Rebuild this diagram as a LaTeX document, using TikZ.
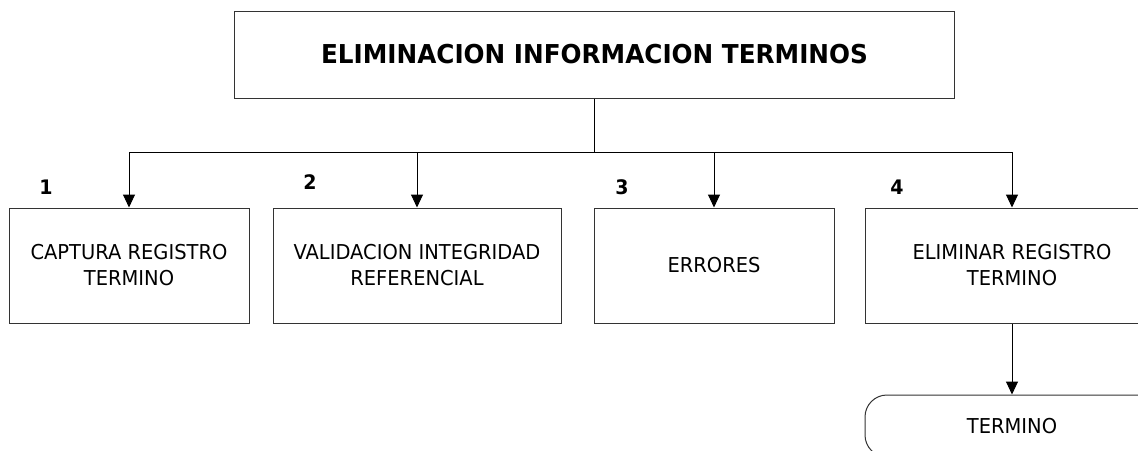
\documentclass[tikz,border=0pt]{standalone}
\usepackage{fontspec}
\setmainfont{DejaVu Sans}[FakeStretch=0.95]
\usetikzlibrary{arrows.meta}
\tikzset{
  box/.style={draw=black!80, line width=1pt, minimum height=115pt, align=center, inner sep=0pt, font=\fontsize{20.5}{26}\selectfont},
  arr/.style={line width=1pt, -{Triangle[width=12pt,length=13pt]}},
  num/.style={font=\fontsize{20}{24}\selectfont\bfseries, inner sep=0pt},
  term/.style={draw=black!80, line width=1pt, rounded corners=22pt, minimum width=294pt, minimum height=62pt, font=\fontsize{20.5}{26}\selectfont}
}
\begin{document}
\begin{tikzpicture}[x=1pt,y=-1pt]
\clip (0,0) rectangle (1138,450);
\fill[white] (0,0) rectangle (1138,450);
\node[draw=black!80, line width=1pt, minimum width=720pt, minimum height=87pt, font=\fontsize{26}{30}\selectfont\bfseries] (title) at (594.5,54.5) {ELIMINACION INFORMACION TERMINOS};
\node[box, minimum width=240pt] (b1) at (129,265.5) {CAPTURA REGISTRO\\TERMINO};
\node[box, minimum width=288pt] (b2) at (417,265.5) {VALIDACION INTEGRIDAD\\REFERENCIAL};
\node[box, minimum width=240pt] (b3) at (714,265.5) {ERRORES};
\node[box, minimum width=294pt] (b4) at (1012,265.5) {ELIMINAR REGISTRO\\TERMINO};
\node[term] (t) at (1012,426) {TERMINO};
\node[num] (n1) at (46,187) {1};
\node[num] (n2) at (310,182) {2};
\node[num] (n3) at (622,187) {3};
\node[num] (n4) at (897,187) {4};
\coordinate (j) at (594.5,152);
\draw[line width=1pt] (title.south) -- (j);
\draw[arr] (j) -| (b1.north);
\draw[arr] (j) -| (b2.north);
\draw[arr] (j) -| (b3.north);
\draw[arr] (j) -| (b4.north);
\draw[arr] (b4.south) -- (t.north);
\end{tikzpicture}
\end{document}
